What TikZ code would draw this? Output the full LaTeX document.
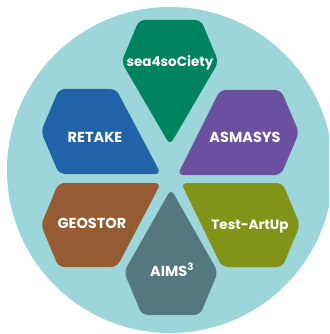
\documentclass[tikz,border=0pt]{standalone}
\usepackage{fontspec}
\setmainfont{Poppins}
\definecolor{bgteal}{HTML}{9DD6DA}
\definecolor{cgreen}{HTML}{00835F}
\definecolor{cblue}{HTML}{2163A9}
\definecolor{cpurple}{HTML}{6B50A0}
\definecolor{cbrown}{HTML}{955B32}
\definecolor{colive}{HTML}{819418}
\definecolor{cgray}{HTML}{557780}
\tikzset{
  petal/.style={rounded corners=6pt},
  lbl/.style={text=white, font=\fontsize{13.5}{16}\selectfont\bfseries, anchor=base, inner sep=0pt},
  capslbl/.style={lbl, font=\fontsize{14.5}{17}\selectfont\bfseries}
}
\begin{document}
\begin{tikzpicture}[x=1pt,y=-1pt]
\useasboundingbox (0,0) rectangle (329,334);
\clip (0,0) rectangle (329,334);
\fill[bgteal] (170,170) circle[radius=163];
% petals
\fill[cgreen,petal] (139,20) -- (201,20) -- (218.5,62) -- (170,145) -- (121.5,62) -- cycle;
\fill[cblue,petal] (59,89) -- (116,89) -- (161,174) -- (59,174) -- (41,131.5) -- cycle;
\fill[cpurple,petal] (220,90) -- (281,90) -- (299,132.5) -- (281,175) -- (177.5,175) -- cycle;
\fill[cbrown,petal] (58.5,183) -- (161,183) -- (117,267) -- (58.5,267) -- (41,225) -- cycle;
\fill[colive,petal] (181,183) -- (282.5,183) -- (300,225) -- (282.5,267) -- (222,267) -- cycle;
\fill[cgray,petal] (171,189) -- (218,272) -- (200,315) -- (142,315) -- (124,272) -- cycle;
% labels
\node[lbl] (tsea) at (170,67) {sea4soCiety};
\node[capslbl] (tretake) at (95,142) {RETAKE};
\node[capslbl] (tasmasys) at (245,142) {ASMASYS};
\node[capslbl] (tgeostor) at (92,228) {GEOSTOR};
\node[lbl] (ttest) at (250,229) {Test-ArtUp};
\node[capslbl] (taims) at (172,276) {AIMS\textsuperscript{3}};
\end{tikzpicture}
\end{document}
